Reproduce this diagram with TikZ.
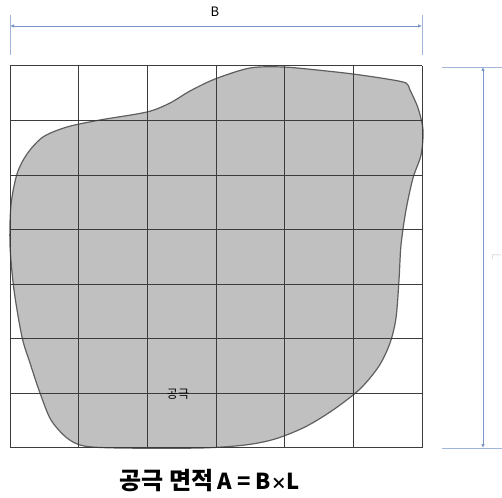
\documentclass[tikz,border=0pt]{standalone}
\usepackage{fontspec}
\setmainfont{Noto Sans CJK KR}
\usetikzlibrary{arrows.meta}
\definecolor{dimblue}{RGB}{120,150,200}
\definecolor{voidfill}{RGB}{192,192,192}
\definecolor{voidline}{RGB}{95,95,95}
\definecolor{gridline}{RGB}{60,60,60}
\tikzset{
  dimline/.style={draw=dimblue, line width=0.8pt, {Latex[length=4pt,width=3.5pt]}-{Latex[length=4pt,width=3.5pt]}},
  extline/.style={draw=dimblue!70, line width=0.8pt},
  gridstyle/.style={draw=gridline, line width=1pt},
  voidshape/.style={fill=voidfill, draw=voidline, line width=1.2pt},
  lbl/.style={inner sep=0pt, font=\fontsize{12}{14}\selectfont}
}
\begin{document}
\begin{tikzpicture}[x=1pt,y=-1pt]
\useasboundingbox (0,0) rectangle (502,497);
% grid corners
\coordinate (g0) at (10,66);
\coordinate (g1) at (422,447.5);
% void shape
\draw[voidshape] plot[smooth cycle, tension=0.5] coordinates {
 (10,245) (11,205) (17,174) (27,154) (43,137) (67,127) (100,120) (147,112)
 (170,103) (190,91) (215,79) (250,68) (283,67) (317,70) (353,74) (387,79)
 (406,83) (410,90) (418,108) (423,130) (421,155) (413,178) (406,210)
 (401,245) (399,280) (396,318) (390,343) (379,366) (360,389) (333,410)
 (305,427) (275,439) (245,445) (200,448) (120,448) (84,446) (67,438)
 (51,420) (40,393) (30,363) (22,337) (14,290)};
% grid
\foreach \i in {0,...,6} {
  \draw[gridstyle] ({10+\i*68.667},66) -- ({10+\i*68.667},447.5);
}
\foreach \j in {0,...,7} {
  \draw[gridstyle] (10,{66+\j*54.5}) -- (422,{66+\j*54.5});
}
% top dimension
\coordinate (bl0) at (10,15);
\coordinate (bl1) at (10,55);
\coordinate (br0) at (422,15);
\coordinate (br1) at (422,55);
\coordinate (bda) at (10,26);
\coordinate (bdb) at (422,26);
\draw[extline] (bl0) -- (bl1);
\draw[extline] (br0) -- (br1);
\draw[dimline] (bda) -- (bdb);
\node[lbl, font=\fontsize{13}{15}\selectfont] (B) at (215,12) {B};
% right dimension
\coordinate (lt0) at (442,67);
\coordinate (lt1) at (502,67);
\coordinate (lb0) at (442,448);
\coordinate (lb1) at (502,448);
\coordinate (lda) at (483,67);
\coordinate (ldb) at (483,448);
\draw[extline] (lt0) -- (lt1);
\draw[extline] (lb0) -- (lb1);
\draw[dimline] (lda) -- (ldb);
\node[lbl, rotate=-90, text=black!12, anchor=north] (L) at (501,257) {L};
% labels
\node[lbl] (void) at (178,394) {공극};
\node[inner sep=0pt, anchor=center] (title) at (210,481)
  {\bfseries\fontsize{24}{28}\selectfont 공극 면적\,\fontsize{22}{26}\selectfont A = B{\fontsize{16}{18}\selectfont ×}L};
\end{tikzpicture}
\end{document}
